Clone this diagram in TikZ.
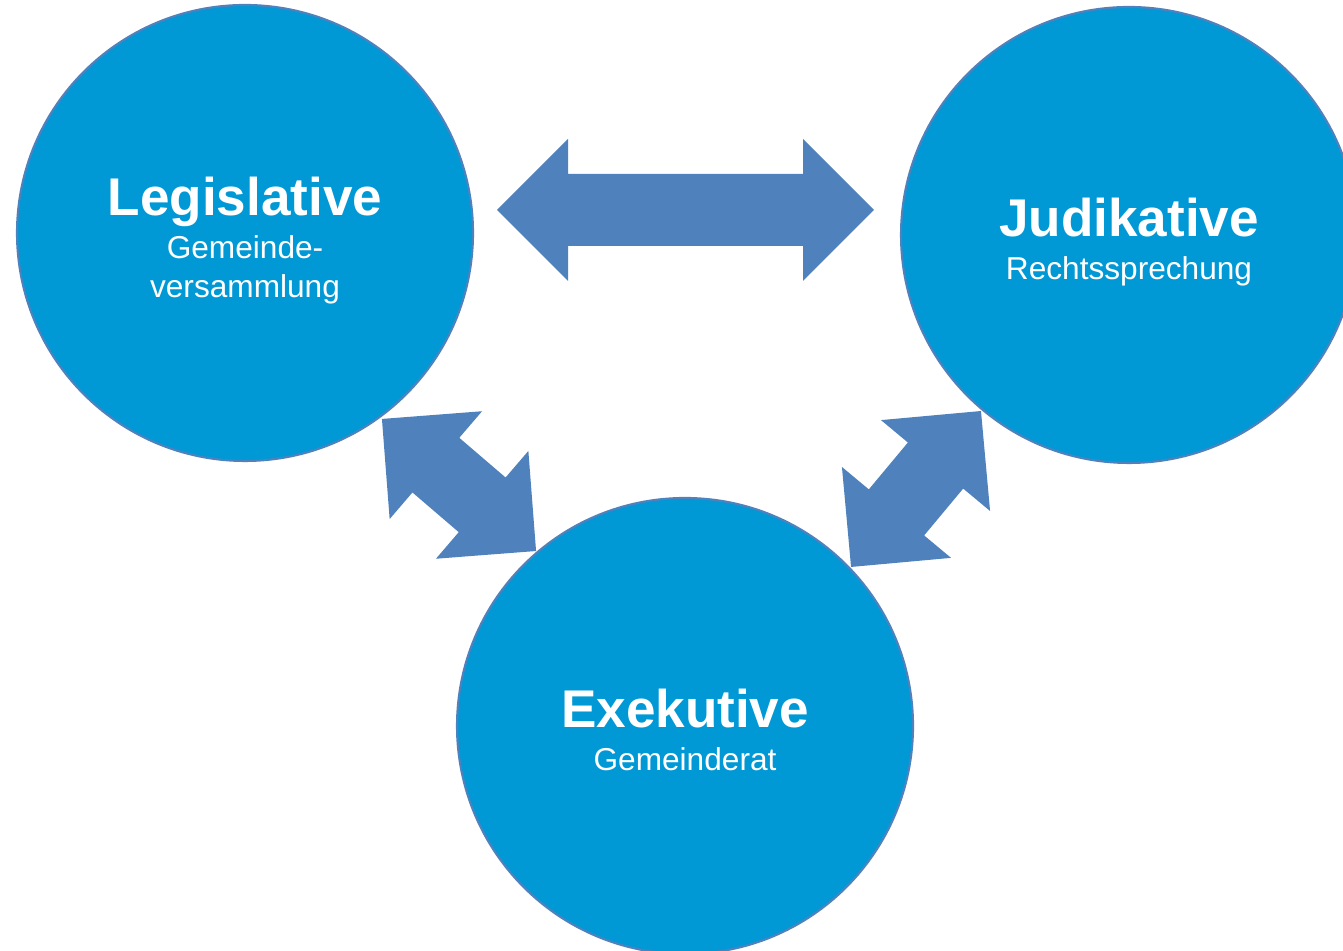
\documentclass[tikz,border=0pt]{standalone}
\usepackage{fontspec}
\setmainfont{Liberation Sans}
\usetikzlibrary{positioning}

\definecolor{circblue}{RGB}{0,153,214}
\definecolor{arrowblue}{RGB}{79,129,189}
\newcommand{\titlefont}{\fontsize{15.1}{18}\selectfont\bfseries}
\newcommand{\subfont}{\fontsize{9}{11.1}\selectfont}

\tikzset{
  power/.style = {circle, fill = circblue, draw = arrowblue, line width = 0.6pt, minimum size = 4.56cm, inner sep = 0pt},
  powertext/.style = {align = center, text = white, font = \subfont, inner sep = 0pt},
  pics/twoway/.style = {code = {
    \fill [arrowblue] (-#1/2, 0) -- ++(0.71, 0.71) -- ++(0, -0.35) -- (#1/2 - 0.71, 0.36) -- ++(0, 0.35)
          -- (#1/2, 0) -- ++(-0.71, -0.71) -- ++(0, 0.35) -- (-#1/2 + 0.71, -0.36) -- ++(0, -0.35) -- cycle;
  }}
}

\begin{document}
\begin{tikzpicture}
  \useasboundingbox (0, 0) rectangle (13.43, 9.51);
  \clip (0, 0) rectangle (13.43, 9.51);

  % the three powers
  \node [power] (leg) at (2.45, 7.18) {};
  \node [power] (jud) at (11.29, 7.16) {};
  \node [power] (exe) at (6.85, 2.25) {};

  \node [powertext] (legtext) at ([yshift = -0.08cm] leg.center) {{\titlefont Legislative}\\[1.1pt] Gemeinde-\\ versammlung};
  \node [powertext] (judtext) at ([yshift = -0.07cm] jud.center) {{\titlefont Judikative}\\[1.1pt] Rechtssprechung};
  \node [powertext] (exetext) at ([yshift = -0.04cm] exe.center) {{\titlefont Exekutive}\\[1.1pt] Gemeinderat};

  % arrows between them
  \pic at (6.855, 7.41) {twoway = 3.77};
  \pic [rotate = -40.6] at (4.59, 4.66) {twoway = 2.03};
  \pic [rotate = 50.2] at (9.16, 4.62) {twoway = 2.03};
\end{tikzpicture}
\end{document}
